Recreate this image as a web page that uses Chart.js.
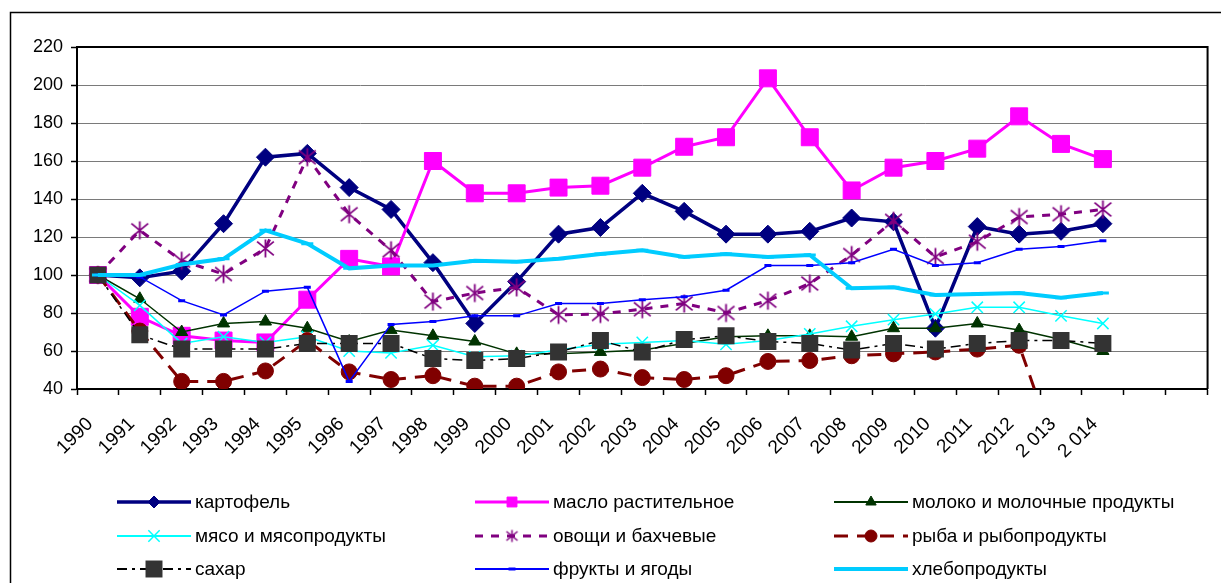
<!DOCTYPE html>
<html><head><meta charset="utf-8">
<script src="https://cdn.jsdelivr.net/npm/chart.js@4.4.1/dist/chart.umd.min.js"></script>
<style>html,body{margin:0;padding:0;background:#fff;}#wrap{width:1221px;height:583px;position:relative;}</style>
</head><body><div id="wrap"><canvas id="c" width="1221" height="583"></canvas></div>
<script>
const categories = ['1990','1991','1992','1993','1994','1995','1996','1997','1998','1999','2000','2001','2002','2003','2004','2005','2006','2007','2008','2009','2010','2011','2012','2 013','2 014','',''];
const yTicks = [40, 60, 80, 100, 120, 140, 160, 180, 200, 220];
const seriesNames = ['картофель','масло растительное','молоко и молочные продукты','мясо и мясопродукты','овощи и бахчевые','рыба и рыбопродукты','сахар','фрукты и ягоды','хлебопродукты'];
const potato = [100, 98.5, 102, 127, 162, 164, 146, 134.5, 106.5, 74.5, 96.5, 121.5, 125, 143, 133.5, 121.5, 121.5, 123, 130, 128, 72, 125.5, 121.5, 123, 127];
const oil = [100, 78, 68, 65.5, 64.5, 87, 108.5, 104.5, 160, 143, 143, 146, 147, 156.5, 167.5, 172.5, 203.5, 172.5, 144.5, 156.5, 160, 166.5, 183.5, 169, 161];
const milk = [100, 87.5, 70, 74.5, 75.5, 72, 65, 71, 68, 65, 58.5, 58.5, 59.5, 60.5, 64, 67.5, 68, 68, 67.5, 72, 72, 74.5, 71, 66, 60];
const meat = [100, 84, 64, 67.5, 64.5, 67.5, 60, 59, 63, 57, 57.5, 60.5, 63.5, 64.5, 65.5, 63.5, 65.5, 69, 73, 76.5, 79.5, 83, 83, 78.5, 74.5];
const vegetables = [100, 123.5, 107.5, 100.5, 114, 162, 132, 113, 86, 90.5, 93.5, 79, 79.5, 82, 85, 80, 86.5, 95.5, 110.5, 128.5, 109.5, 117.5, 130.5, 132, 134.5];
const fish = [100, 70.5, 44, 44, 49.5, 65.5, 49, 45, 47, 41.5, 41.5, 49, 50.5, 46, 45, 47, 54.5, 55, 57.5, 58.5, 59.5, 61, 63, 0, 0];
const sugar = [100, 68.5, 61, 61, 61, 64, 64, 64, 56, 55, 56, 59.5, 65.5, 59.5, 66, 68, 65, 64, 60.5, 64, 61, 64, 65.5, 65.5, 64];
const fruit = [100, 99, 86.5, 79, 91.5, 93.5, 44, 74, 75.5, 78.5, 78.5, 85, 85, 87, 88.5, 92, 105, 105, 106.5, 113.5, 105, 106.5, 113.5, 115, 118];
const bread = [100, 100, 105.5, 108.5, 123.5, 116.5, 103.5, 105, 105, 107.5, 107, 108.5, 111, 113, 109.5, 111, 109.5, 110.5, 93, 93.5, 89.5, 90, 90.5, 88, 90.5];

const FONT = "'Liberation Sans', Arial, sans-serif";
Chart.defaults.font.family = FONT;
Chart.defaults.color = '#000';

function asterisk(size, color, lw) {
  const c = document.createElement('canvas');
  c.width = size; c.height = size;
  const g = c.getContext('2d');
  const m = size / 2, p = 1.5, d = size * 0.1;
  g.strokeStyle = color; g.lineWidth = lw; g.lineCap = 'butt';
  g.beginPath();
  g.moveTo(m, p); g.lineTo(m, size - p);
  g.moveTo(p + d * 0.3, p + d); g.lineTo(size - p - d * 0.3, size - p - d);
  g.moveTo(size - p - d * 0.3, p + d); g.lineTo(p + d * 0.3, size - p - d);
  g.stroke();
  return c;
}
const starBig = asterisk(21, '#800080', 1.8);
const starSmall = asterisk(15, '#800080', 1.5);

const styles = [
  {data: potato, color:'#000080', fill:'#000080', bw:3.5, dash:[], ps:'rectRot', r:9, pbw:1, lr:6},
  {data: oil, color:'#FF00FF', fill:'#FF00FF', bw:3, dash:[], ps:'rect', r:12, pbw:1, lr:7},
  {data: milk, color:'#003300', fill:'#003300', bw:1.5, dash:[], ps:'triangle', r:7, pbw:1, lr:6},
  {data: meat, color:'#00FFFF', fill:'#00FFFF', bw:1.5, dash:[], ps:'crossRot', r:8, pbw:1.5, lr:8},
  {data: vegetables, color:'#800080', fill:'#800080', bw:3, dash:[8,8], ps:starBig, lps:starSmall, r:10, pbw:1.5, lr:7},
  {data: fish, color:'#800000', fill:'#800000', bw:3, dash:[14,9], ps:'circle', r:8, pbw:1, lr:6},
  {data: sugar, color:'#000000', fill:'#333333', bw:1.5, dash:[10,5,3,5], ps:'rect', r:12, pbw:0, lr:12},
  {data: fruit, color:'#0000FF', fill:'#0000FF', bw:1.5, dash:[], ps:'line', r:3.5, pbw:3, lr:3.5},
  {data: bread, color:'#00CCFF', fill:'#00CCFF', bw:4, dash:[], ps:'line', r:6, pbw:3, lr:6}
];
const solidMarker = ps => ps === 'rect' || ps === 'rectRot' || ps === 'circle' || ps === 'triangle';

const datasets = styles.map((s, i) => ({
  label: seriesNames[i],
  data: s.data,
  borderColor: s.color,
  backgroundColor: s.fill,
  borderWidth: s.bw,
  borderDash: s.dash,
  pointStyle: s.ps,
  pointRadius: s.r,
  pointHoverRadius: s.r,
  pointBackgroundColor: s.fill,
  pointBorderColor: solidMarker(s.ps) ? s.fill : s.color,
  pointBorderWidth: s.pbw,
  tension: 0,
  order: 9 - i
}));

const framePlugin = {
  id: 'frame',
  afterDraw(chart) {
    const ctx = chart.ctx, a = chart.chartArea;
    ctx.save();
    ctx.strokeStyle = '#000'; ctx.lineWidth = 1.5; ctx.setLineDash([]);
    ctx.strokeRect(10.5, 12.5, 1300, 1300);
    ctx.lineWidth = 2;
    ctx.beginPath(); ctx.moveTo(a.left, a.top); ctx.lineTo(a.right, a.top); ctx.lineTo(a.right, a.bottom); ctx.stroke();
    // legend
    const cols = [117, 475, 834];
    const rows = [502, 536, 569];
    ctx.font = '19px ' + FONT;
    ctx.textBaseline = 'middle';
    ctx.textAlign = 'left';
    styles.forEach((s, i) => {
      const x0 = cols[i % 3], y = rows[Math.floor(i / 3)];
      ctx.save();
      ctx.strokeStyle = s.color; ctx.lineWidth = Math.max(2, s.bw); ctx.setLineDash(s.dash);
      ctx.beginPath(); ctx.moveTo(x0, y); ctx.lineTo(x0 + 74, y); ctx.stroke();
      ctx.setLineDash([]);
      ctx.fillStyle = s.fill;
      ctx.strokeStyle = solidMarker(s.ps) ? s.fill : s.color;
      ctx.lineWidth = s.pbw;
      Chart.helpers.drawPoint(ctx, {pointStyle: s.lps || s.ps, radius: s.lr, rotation: 0, borderWidth: s.pbw}, x0 + 37, y);
      ctx.restore();
      ctx.fillStyle = '#000';
      ctx.fillText(seriesNames[i], x0 + 78, y + 1);
    });
    ctx.restore();
  }
};

new Chart(document.getElementById('c'), {
  type: 'line',
  data: { labels: categories, datasets },
  options: {
    responsive: false,
    devicePixelRatio: 1,
    animation: false,
    events: [],
    layout: { padding: { top: 47, right: 3, left: 0, bottom: 0 } },
    plugins: { legend: { display: false }, tooltip: { enabled: false } },
    scales: {
      x: {
        type: 'category',
        offset: true,
        grid: { offset: true, drawOnChartArea: false, drawTicks: true, tickLength: 6, tickColor: '#000', tickWidth: 1.5 },
        border: { color: '#000', width: 2 },
        ticks: { autoSkip: false, maxRotation: 45, minRotation: 45, font: { size: 19 }, color: '#000', padding: 18, labelOffset: -8 },
        afterFit: s => { s.height = 194; }
      },
      y: {
        min: 40, max: 220,
        afterBuildTicks: s => { s.ticks = yTicks.map(v => ({ value: v })); },
        grid: { color: '#7a7a7a', lineWidth: 1, drawTicks: true, tickLength: 6, tickColor: '#000', tickWidth: 1.5 },
        border: { color: '#000', width: 2 },
        ticks: { font: { size: 18 }, color: '#000', padding: 8 },
        afterFit: s => { s.width = 77; }
      }
    }
  },
  plugins: [framePlugin]
});
</script>
</body></html>
